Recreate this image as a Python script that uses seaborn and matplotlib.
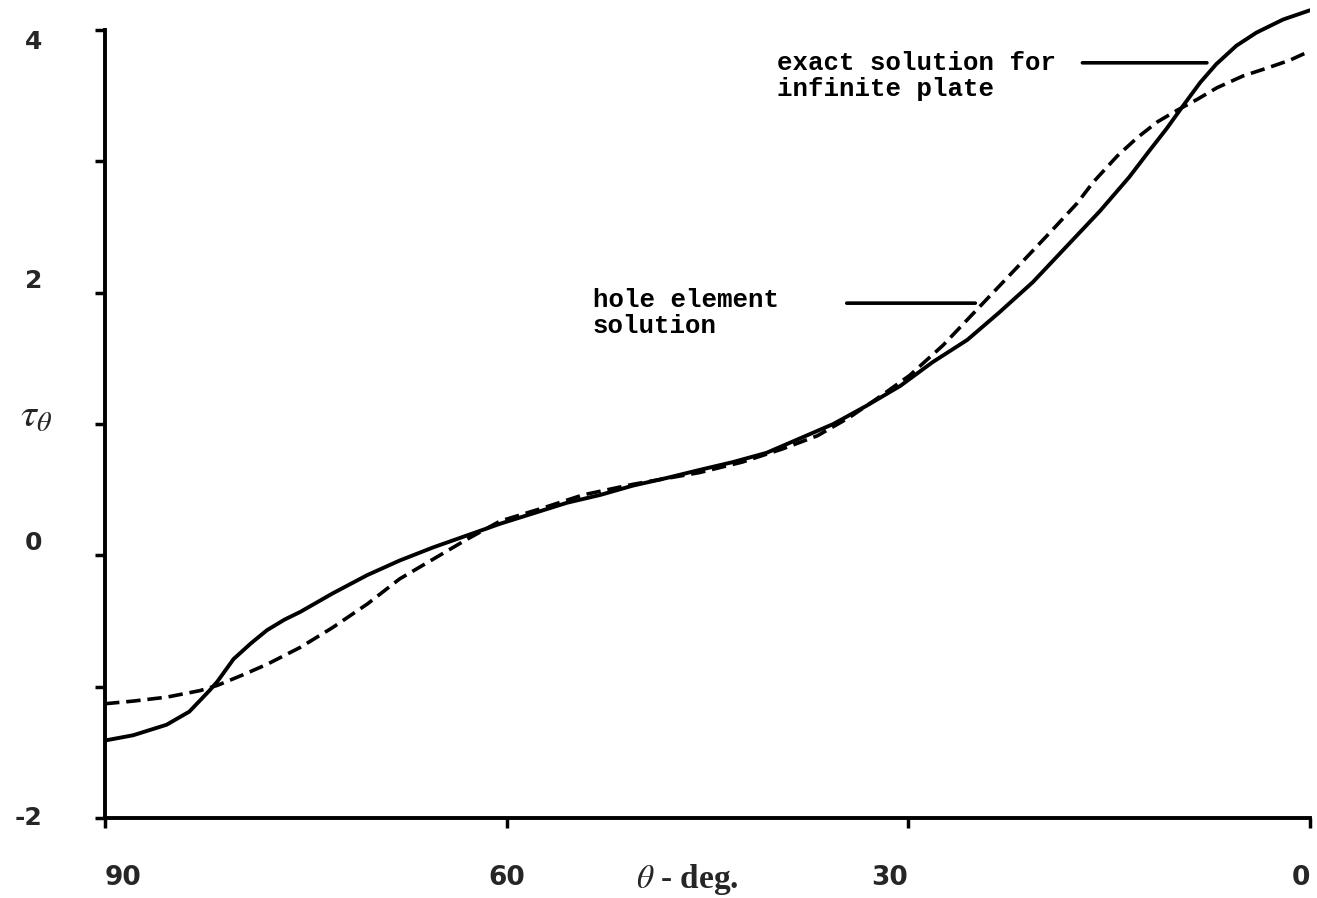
import matplotlib
matplotlib.use("Agg")
import matplotlib.pyplot as plt
import pandas as pd
import seaborn as sns

# Tangential stress around the hole boundary, theta in degrees
theta_exact = [90.0, 87.9, 85.4, 83.7, 82.2, 81.6, 80.4, 79.1, 77.9, 76.6,
               75.4, 73.0, 70.4, 68.0, 65.5, 63.0, 60.5, 58.0, 55.5, 53.0,
               50.6, 48.0, 45.6, 43.1, 40.6, 38.1, 35.6, 33.1, 30.6, 29.4,
               28.2, 25.6, 23.2, 20.7, 18.2, 15.7, 13.5, 12.0, 10.7, 9.5,
               8.2, 7.0, 5.5, 4.0, 2.0, 0.0]
tau_exact = [-1.41, -1.37, -1.29, -1.19, -1.03, -0.96, -0.79, -0.67, -0.57, -0.49,
             -0.43, -0.29, -0.15, -0.04, 0.06, 0.15, 0.24, 0.32, 0.40, 0.46,
             0.53, 0.59, 0.65, 0.71, 0.78, 0.89, 1.00, 1.14, 1.29, 1.38,
             1.47, 1.64, 1.85, 2.08, 2.35, 2.62, 2.88, 3.08, 3.25, 3.42,
             3.60, 3.74, 3.88, 3.98, 4.08, 4.15]

theta_hole = [90.0, 87.9, 85.4, 82.9, 81.6, 79.7, 77.9, 75.4, 73.0, 70.4,
              68.0, 65.5, 63.0, 60.5, 57.3, 54.3, 50.6, 45.6, 42.4, 39.4,
              36.8, 34.4, 32.1, 29.9, 27.4, 24.7, 21.9, 19.4, 17.4, 16.2,
              14.4, 12.9, 11.4, 9.9, 8.45, 6.95, 5.0, 3.2, 1.5, 0.0]
tau_hole = [-1.13, -1.11, -1.08, -1.03, -0.99, -0.91, -0.83, -0.70, -0.55, -0.37,
            -0.18, -0.03, 0.12, 0.26, 0.36, 0.46, 0.54, 0.63, 0.71, 0.81,
            0.91, 1.05, 1.21, 1.37, 1.60, 1.89, 2.19, 2.46, 2.68, 2.84,
            3.04, 3.18, 3.30, 3.39, 3.47, 3.56, 3.65, 3.71, 3.77, 3.84]

x_ticks = [90, 60, 30, 0]
x_tick_labels = ["90", "60", "30", "0"]
y_ticks = [-2, 0, 2, 4]
y_tick_labels = ["-2", "0", "2", "4"]
y_minor_ticks = [-1, 1, 3]

exact_label = ["exact solution for", "infinite plate"]
hole_label = ["hole element", "solution"]

sns.set_style("ticks")
plt.rcParams["font.family"] = ["DejaVu Sans"]
plt.rcParams["mathtext.fontset"] = "stix"

fig = plt.figure(figsize=(13.17, 8.98), dpi=100)
ax = fig.add_axes([105 / 1317, 80 / 898, 1205 / 1317, 814.3 / 898])

exact = pd.DataFrame({"theta": theta_exact, "tau": tau_exact})
hole = pd.DataFrame({"theta": theta_hole, "tau": tau_hole})

sns.lineplot(data=exact, x="theta", y="tau", color="black", lw=2.8,
             sort=False, ax=ax)
sns.lineplot(data=hole, x="theta", y="tau", color="black", lw=2.6,
             linestyle=(0, (4.0, 1.9)), sort=False, ax=ax)
for line in ax.get_lines():
    line.set_solid_joinstyle("round")
    line.set_dash_joinstyle("round")

ax.set_xlim(90, 0)
ax.set_ylim(-2, 4.2)
ax.spines[["top", "right"]].set_visible(False)
ax.spines["left"].set_bounds(-2, 4)
for side in ("left", "bottom"):
    ax.spines[side].set_linewidth(2.8)
    ax.spines[side].set_color("black")

ax.set_xticks(x_ticks, x_tick_labels)
ax.set_yticks(y_ticks, y_tick_labels)
ax.set_yticks(y_minor_ticks, minor=True)
ax.tick_params(axis="both", which="both", direction="out", length=7,
               width=2.5, color="black")
ax.tick_params(axis="x", pad=27, labelsize=19)
ax.tick_params(axis="y", pad=38, labelsize=18)
ax.set_xlabel("")
ax.set_ylabel("")

x_align = {"90": "left", "60": "center", "30": "right", "0": "right"}
for lab in ax.get_xticklabels():
    lab.set_fontweight("bold")
    lab.set_ha(x_align[lab.get_text()])
y_align = {"4": "top", "2": "bottom", "0": "bottom", "-2": "center"}
for lab in ax.get_yticklabels():
    lab.set_fontweight("bold")
    lab.set_va(y_align[lab.get_text()])

mono = dict(family="Liberation Mono", fontsize=18.5, fontweight="bold",
            color="black", va="baseline", ha="left")
ax.text(39.8, 3.695, exact_label[0], **mono)
ax.text(39.8, 3.497, exact_label[1], **mono)
ax.text(53.55, 1.89, hole_label[0], **mono)
ax.text(53.55, 1.69, hole_label[1], **mono)

# leader lines from the notes to their curves
ax.annotate("", xy=(7.7, 3.75), xytext=(17.0, 3.75),
            arrowprops=dict(arrowstyle="-", lw=2.6, color="black",
                            shrinkA=0, shrinkB=0))
ax.annotate("", xy=(25.0, 1.92), xytext=(34.6, 1.92),
            arrowprops=dict(arrowstyle="-", lw=2.6, color="black",
                            shrinkA=0, shrinkB=0))

fig.text(20 / 1317, 1 - 427 / 898, r"$\tau_\theta$", fontsize=29,
         va="baseline", ha="left")
fig.text(636 / 1317, 1 - 888 / 898, r"$\theta$ - deg.", fontsize=24,
         family="Liberation Serif", fontweight="bold", va="baseline",
         ha="left")

fig.savefig("out.png", dpi=100, facecolor="white")
